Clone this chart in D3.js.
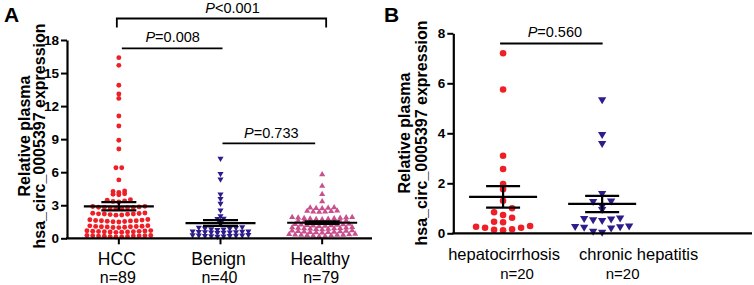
<!DOCTYPE html>
<html><head><meta charset="utf-8">
<script src="https://cdn.jsdelivr.net/npm/d3@7"></script>
<style>body{margin:0;background:#fff} text{font-family:"Liberation Sans",Arial,sans-serif}</style>
</head><body><svg id="c" width="754" height="285"></svg>
<script>
// ---------- data ----------
const catsA = ["HCC", "Benign", "Healthy"];
const nLabelsA = ["n=89", "n=40", "n=79"];
const hcc = [16.4, 15.7, 13.9, 13.1, 12.7, 11.1, 10.2, 8.9, 8.1, 6.4, 6.4, 5.3,
  4.3, 4.25, 4.15, 4.05, 4.0, 3.95,
  3.5, 3.45, 3.4, 3.35, 3.3,
  2.9, 2.88, 2.85, 2.82, 2.8, 2.8, 2.78, 2.75, 2.72, 2.7,
  2.3, 2.28, 2.25, 2.22, 2.2, 2.2, 2.18, 2.15, 2.12, 2.1,
  1.7, 1.68, 1.65, 1.62, 1.6, 1.6, 1.58, 1.55, 1.52, 1.5, 1.48,
  1.15, 1.13, 1.1, 1.08, 1.07, 1.05, 1.05, 1.03, 1.0, 0.98, 0.97,
  0.7, 0.68, 0.66, 0.64, 0.63, 0.62, 0.6, 0.6, 0.58, 0.57, 0.55, 0.54,
  0.26, 0.25, 0.24, 0.23, 0.22, 0.2, 0.2, 0.18, 0.16, 0.15, 0.13, 0.12];
const benign = [7.25, 5.85, 5.35, 4.0, 3.6, 3.15, 2.55, 2.03, 1.8, 1.78, 1.4, 1.3,
  1.02, 0.98, 0.95, 0.92, 0.9, 0.85, 0.82, 0.78,
  0.65, 0.63, 0.61, 0.6, 0.58, 0.57, 0.55, 0.54, 0.52, 0.5,
  0.32, 0.3, 0.28, 0.27, 0.25, 0.24, 0.22, 0.2, 0.18, 0.16];
const healthy = [5.8, 4.75, 4.0, 3.35,
  2.8, 2.78, 2.75, 2.72, 2.7,
  2.5, 2.48, 2.45, 2.42, 2.4, 2.38,
  1.92, 1.9, 1.88, 1.86, 1.84, 1.82, 1.8, 1.78, 1.75, 1.72, 1.7,
  1.6, 1.57, 1.55, 1.52, 1.5, 1.48, 1.45, 1.42, 1.4,
  1.3, 1.27, 1.25, 1.22, 1.2, 1.19, 1.17, 1.15, 1.12, 1.1,
  1.0, 0.98, 0.96, 0.94, 0.92, 0.9, 0.88, 0.86, 0.84, 0.82, 0.8,
  0.7, 0.68, 0.66, 0.64, 0.62, 0.6, 0.58, 0.56, 0.54, 0.52, 0.5,
  0.38, 0.36, 0.34, 0.32, 0.31, 0.3, 0.29, 0.27, 0.25, 0.23, 0.21, 0.18];
const yTicksA = [0, 3, 6, 9, 12, 15, 18];
const pTextsA = ["=0.008", "=0.733", "<0.001"];

const catsB = ["hepatocirrhosis", "chronic hepatitis"];
const nLabelsB = ["n=20", "n=20"];
const cirrhosis = [7.2, 5.75, 3.1, 2.57, 1.97, 1.76, 1.3, 1.0, 0.84, 0.73, 0.62, 0.46, 0.44,
  0.29, 0.22, 0.16, 0.12, 0.14, 0.22, 0.26];
const hepatitis = [5.35, 3.96, 3.6, 1.6, 1.3, 1.28, 1.1, 0.96,
  0.62, 0.6, 0.58, 0.55, 0.52,
  0.3, 0.28, 0.27, 0.25, 0.22, 0.09, 0.05];
const yTicksB = [0, 2, 4, 6, 8];
const pTextsB = ["=0.560"];

const yLabel1 = "Relative plasma";
const yLabel2 = "hsa_circ_0005397 expression";

// ---------- styling ----------
const RED = "#ee1f26", NAVY = "#2e1c8c", PINK = "#c8508c";
const FONT = '"Liberation Sans",Arial,sans-serif';
const svg = d3.select("#c");

// row layout (scatter dot plot): bin values by pixel height, spread each row centre-out
function rowLayout(vals, y, binH, s, phase) {
  const y0 = y(0);
  const bins = d3.group(vals.map((v, i) => i), i => Math.floor((y0 - y(vals[i])) / binH + phase));
  const off = new Array(vals.length).fill(0);
  for (const [, idx] of bins) {
    const k = idx.length;
    const slots = d3.range(k).map(j => (j - (k - 1) / 2) * s);
    slots.sort((a, b) => Math.abs(a) - Math.abs(b) || a - b);
    idx.sort((a, b) => vals[a] - vals[b]);
    idx.forEach((i, j) => { off[i] = slots[j]; });
  }
  return off;
}

function drawGroup(g, vals, cx, y, shape, color, size, lay, meanW, capW) {
  const offs = rowLayout(vals, y, lay.h, lay.s, lay.phase);
  const sym = d3.symbol().type(shape === "circle" ? d3.symbolCircle : d3.symbolTriangle).size(size);
  g.append("g").selectAll("path").data(vals).join("path")
    .attr("d", sym)
    .attr("fill", color)
    .attr("transform", (v, i) => `translate(${cx + offs[i]},${y(v)})` + (shape === "down" ? " rotate(180)" : ""));
  const m = d3.mean(vals);
  const sem = d3.deviation(vals) / Math.sqrt(vals.length);
  const eb = g.append("g").attr("stroke", "#000").attr("stroke-width", 2.2);
  eb.append("line").attr("x1", cx - meanW / 2).attr("x2", cx + meanW / 2).attr("y1", y(m)).attr("y2", y(m));
  eb.append("line").attr("x1", cx - capW / 2).attr("x2", cx + capW / 2).attr("y1", y(m + sem)).attr("y2", y(m + sem));
  eb.append("line").attr("x1", cx - capW / 2).attr("x2", cx + capW / 2).attr("y1", y(m - sem)).attr("y2", y(m - sem));
  eb.append("line").attr("x1", cx).attr("x2", cx).attr("y1", y(m + sem)).attr("y2", y(m - sem));
}

function yAxis(g, y, ticks, x0) {
  const ax = g.append("g").attr("transform", `translate(${x0},0)`)
    .call(d3.axisLeft(y).tickValues(ticks).tickSize(6).tickSizeOuter(0).tickPadding(2));
  ax.select(".domain").attr("stroke-width", 2.2);
  ax.selectAll(".tick line").attr("stroke-width", 2);
  ax.selectAll(".tick text").attr("font-size", 13.5).attr("font-weight", "bold")
    .attr("font-family", FONT).attr("fill", "#000");
}

function yTitle(g, cx, cy, gap) {
  const t = g.append("g").attr("transform", `translate(${cx},${cy}) rotate(-90)`)
    .attr("font-size", 16).attr("font-weight", "bold").attr("text-anchor", "middle");
  t.append("text").attr("y", 0).text(yLabel1);
  t.append("text").attr("y", gap).text(yLabel2);
}

function pLabel(g, x, y, txt) {
  const t = g.append("text").attr("x", x).attr("y", y).attr("text-anchor", "middle").attr("font-size", 14.5);
  t.append("tspan").attr("font-style", "italic").text("P");
  t.append("tspan").text(txt);
}

// ---------- Panel A ----------
{
  const g = svg.append("g");
  const x0 = 67, x1 = 372, yb = 238.3;
  const y = d3.scaleLinear().domain([0, 18]).range([yb, 40]);
  const x = d3.scalePoint().domain(catsA).range([x0, x1]).padding(0.5);
  const xc = c => x(c) + 1;
  drawGroup(g, hcc, xc("HCC"), y, "circle", RED, 19, { h: 6.05, s: 5.8, phase: 0.5 }, 70, 35);
  drawGroup(g, benign, xc("Benign"), y, "down", NAVY, 16, { h: 3.3, s: 6.2, phase: 0.5 }, 70, 35);
  drawGroup(g, healthy, xc("Healthy"), y, "up", PINK, 16, { h: 3.3, s: 6.0, phase: 0.5 }, 70, 35);
  yAxis(g, y, yTicksA, x0);
  g.append("line").attr("x1", x0 - 1).attr("x2", x1).attr("y1", yb).attr("y2", yb).attr("stroke", "#000").attr("stroke-width", 2.2);
  catsA.forEach((c, i) => {
    g.append("line").attr("x1", xc(c)).attr("x2", xc(c)).attr("y1", yb).attr("y2", yb + 6).attr("stroke", "#000").attr("stroke-width", 2);
    g.append("text").attr("x", xc(c) - 2).attr("y", 265).attr("text-anchor", "middle").attr("font-size", 17.5).text(c);
    g.append("text").attr("x", xc(c) - 1).attr("y", 282.5).attr("text-anchor", "middle").attr("font-size", 16).text(nLabelsA[i]);
  });
  yTitle(g, 30, 136, 15);
  g.append("text").attr("x", 4).attr("y", 22).attr("font-size", 21).attr("font-weight", "bold").text("A");
  const br = g.append("g").attr("stroke", "#000").attr("stroke-width", 1.8).attr("fill", "none");
  br.append("line").attr("x1", xc("HCC") + 3).attr("x2", xc("Benign") + 2).attr("y1", 48.3).attr("y2", 48.3);
  pLabel(g, (xc("HCC") + xc("Benign")) / 2 + 3, 42, pTextsA[0]);
  br.append("line").attr("x1", xc("Benign") + 2).attr("x2", xc("Healthy") - 7).attr("y1", 143.3).attr("y2", 143.3);
  pLabel(g, (xc("Benign") + xc("Healthy")) / 2, 137.5, pTextsA[1]);
  br.append("path").attr("d", `M${xc("HCC") - 2},27.5V18.5H${xc("Healthy") + 4}V27.5`);
  pLabel(g, (xc("HCC") + xc("Healthy")) / 2 + 12, 13, pTextsA[2]);
}

// ---------- Panel B ----------
{
  const g = svg.append("g");
  const x0 = 453.3, x1 = 752, yb = 233.3;
  const y = d3.scaleLinear().domain([0, 8]).range([yb, 33.3]);
  const step = (x1 - x0) / 3;
  const x = d3.scalePoint().domain(catsB).range([x0, x0 + 2 * step]).padding(0.5);
  drawGroup(g, cirrhosis, x(catsB[0]), y, "circle", RED, 34, { h: 9, s: 9, phase: 0 }, 68, 34);
  drawGroup(g, hepatitis, x(catsB[1]) - 0.5, y, "down", NAVY, 30, { h: 9, s: 9, phase: 0 }, 68, 34);
  yAxis(g, y, yTicksB, x0);
  g.append("line").attr("x1", x0 - 1).attr("x2", x1).attr("y1", yb).attr("y2", yb).attr("stroke", "#000").attr("stroke-width", 2.2);
  const dxs = [1, 36], ndx = [14, 20];
  catsB.forEach((c, i) => {
    g.append("text").attr("x", x(c) + dxs[i]).attr("y", 259.5).attr("text-anchor", "middle").attr("font-size", 16.5).text(c);
    g.append("text").attr("x", x(c) + ndx[i]).attr("y", 278.5).attr("text-anchor", "middle").attr("font-size", 15).text(nLabelsB[i]);
  });
  yTitle(g, 410, 133, 16.5);
  g.append("text").attr("x", 384).attr("y", 22).attr("font-size", 21).attr("font-weight", "bold").text("B");
  g.append("line").attr("x1", x(catsB[0]) - 3).attr("x2", x(catsB[1])).attr("y1", 43.5).attr("y2", 43.5)
    .attr("stroke", "#000").attr("stroke-width", 1.8);
  pLabel(g, (x(catsB[0]) + x(catsB[1])) / 2 + 2, 37, pTextsB[0]);
}
</script></body></html>
